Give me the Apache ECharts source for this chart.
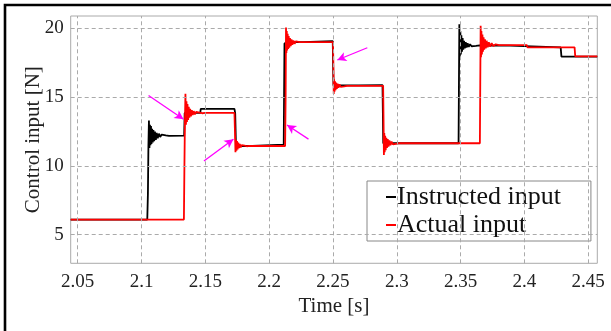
<!DOCTYPE html>
<html>
<head>
<meta charset="utf-8">
<script src="https://cdn.jsdelivr.net/npm/echarts@6/dist/echarts.min.js"></script>
<style>
html,body{margin:0;padding:0;background:#fff;}
#chart{width:611px;height:331px;}
</style>
</head>
<body>
<div id="chart"></div>
<script>
// ---- data ----
var xTicks = [2.05, 2.1, 2.15, 2.2, 2.25, 2.3, 2.35, 2.4, 2.45];
var yTicks = [5, 10, 15, 20];
var xRange = [2.0445, 2.4571];
var yRange = [2.92, 20.9];
var seriesNames = ['Instructed input', 'Actual input'];

var instructed = [
  [2.0445,6.1],[2.1045,6.1],[2.1050,8.0],[2.1054,11.5],[2.1058,13.3],[2.1062,11.3],[2.1066,13.0],
  [2.1070,11.5],[2.1074,12.9],[2.1078,11.6],[2.1083,12.7],[2.1088,11.7],[2.1093,12.6],[2.1099,11.8],
  [2.1105,12.5],[2.1112,11.9],[2.1119,12.4],[2.1127,12.0],[2.1136,12.35],[2.1146,12.1],[2.1158,12.28],
  [2.1172,12.15],[2.1190,12.22],[2.1215,12.18],[2.1334,12.2],
  [2.1338,13.85],[2.1460,13.85],[2.1464,14.15],[2.1728,14.15],[2.1734,13.8],[2.1740,11.4],
  [2.1760,11.45],[2.1868,11.45],[2.1872,11.55],[2.2114,11.55],[2.2120,18.9],[2.2140,19.0],
  [2.2265,19.0],[2.2268,19.08],[2.2498,19.08],[2.2504,15.85],[2.2700,15.85],[2.2703,15.88],[2.2888,15.88],
  [2.2894,11.65],[2.3484,11.65],[2.3487,16.0],
  [2.3490,20.3],[2.3494,17.9],[2.3498,19.8],[2.3502,18.1],[2.3506,19.5],[2.3511,18.3],[2.3516,19.3],
  [2.3521,18.45],[2.3527,19.1],[2.3533,18.55],[2.3540,19.0],[2.3547,18.6],[2.3555,18.92],[2.3564,18.65],
  [2.3574,18.85],[2.3586,18.7],[2.3600,18.8],[2.3620,18.73],[2.3650,18.76],[2.3887,18.75],
  [2.3890,18.62],[2.4284,18.62],[2.4290,17.95],[2.4571,17.95]
];

var actual = [
  [2.0445,6.1],[2.1332,6.1],[2.1336,10.0],[2.1340,13.3],[2.1344,15.25],[2.1348,13.0],[2.1352,14.7],
  [2.1356,13.2],[2.1360,14.5],[2.1365,13.35],[2.1370,14.3],[2.1375,13.5],[2.1381,14.15],[2.1387,13.6],
  [2.1394,14.05],[2.1401,13.7],[2.1409,13.98],[2.1418,13.75],[2.1428,13.92],[2.1440,13.8],[2.1455,13.88],
  [2.1475,13.83],[2.1500,13.85],[2.1728,13.85],
  [2.1732,12.5],[2.1736,11.0],[2.1740,11.9],[2.1744,11.1],[2.1748,11.8],[2.1753,11.2],[2.1758,11.7],
  [2.1764,11.3],[2.1770,11.6],[2.1777,11.35],[2.1785,11.52],[2.1795,11.4],[2.1808,11.48],[2.1825,11.43],
  [2.1850,11.45],[2.2125,11.45],
  [2.2129,15.0],[2.2132,20.07],[2.2135,18.2],[2.2138,19.8],[2.2141,18.4],[2.2145,19.6],[2.2149,18.5],
  [2.2153,19.45],[2.2158,18.6],[2.2163,19.3],[2.2169,18.7],[2.2175,19.2],[2.2182,18.8],[2.2190,19.12],
  [2.2199,18.88],[2.2210,19.06],[2.2224,18.95],[2.2240,19.0],[2.2500,19.0],
  [2.2503,17.5],[2.2506,15.23],[2.2509,16.3],[2.2512,15.4],[2.2516,16.15],[2.2520,15.5],[2.2525,16.05],
  [2.2530,15.6],[2.2536,15.98],[2.2543,15.68],[2.2551,15.92],[2.2560,15.74],[2.2572,15.86],[2.2588,15.78],
  [2.2610,15.82],[2.2893,15.82],
  [2.2896,13.5],[2.2899,10.8],[2.2902,12.4],[2.2905,11.0],[2.2909,12.2],[2.2913,11.15],[2.2918,12.05],
  [2.2923,11.3],[2.2929,11.95],[2.2935,11.4],[2.2942,11.85],[2.2950,11.5],[2.2959,11.77],[2.2970,11.56],
  [2.2983,11.7],[2.3000,11.62],[2.3025,11.66],[2.3651,11.65],
  [2.3654,16.0],[2.3657,20.19],[2.3660,17.9],[2.3663,19.8],[2.3667,18.1],[2.3671,19.55],[2.3675,18.3],
  [2.3680,19.35],[2.3685,18.45],[2.3691,19.2],[2.3697,18.55],[2.3704,19.1],[2.3712,18.62],[2.3721,19.0],
  [2.3731,18.68],[2.3743,18.92],[2.3757,18.72],[2.3775,18.84],[2.3800,18.78],[2.4020,18.78],
  [2.4024,18.62],[2.4393,18.62],[2.4398,17.97],[2.4571,17.97]
];

// annotation arrows: [start, tip] in data units
var arrows = [
  [[2.1055,15.12],[2.1329,13.39]],
  [[2.1489,10.36],[2.1720,11.94]],
  [[2.2308,11.95],[2.2140,12.97]],
  [[2.2769,18.59],[2.2534,17.70]]
];

// ---- chart ----
var FONT = 'Liberation Serif';
var chart = echarts.init(document.getElementById('chart'), null, {renderer:'canvas'});

var gridLines = [];
xTicks.forEach(function(v){ gridLines.push({xAxis:v}); });
yTicks.forEach(function(v){ gridLines.push({yAxis:v}); });

var arrowLines = arrows.map(function(a){
  return [{coord:a[0], symbol:'none'}, {coord:a[1], symbol:'arrow'}];
});

var fmt = function(v){ return String(+(+v).toFixed(2)); };

chart.setOption({
  backgroundColor:'#fff',
  animation:false,
  textStyle:{fontFamily:FONT},
  graphic:[{
    type:'rect', silent:true, z:100,
    shape:{x:5, y:5, width:900, height:700},
    style:{fill:'none', stroke:'#000', lineWidth:2.6}
  }],
  grid:{left:70.7, top:16, right:13.7, bottom:67.7, show:true, borderColor:'#aaa', borderWidth:1, backgroundColor:'transparent'},
  legend:{
    data:seriesNames,
    orient:'vertical',
    left:367, top:181,
    backgroundColor:'#fff',
    borderColor:'#888', borderWidth:1, borderRadius:0,
    padding:[2, 30, 2, 19],
    itemGap:0,
    itemWidth:10, itemHeight:2,
    icon:'rect',
    selectedMode:false,
    textStyle:{fontFamily:FONT, fontSize:26, color:'#111', lineHeight:28, padding:[0,0,0,-4]}
  },
  xAxis:{
    type:'value', min:xRange[0], max:xRange[1],
    name:'Time [s]', nameLocation:'middle', nameGap:33, nameMoveOverlap:false,
    nameTextStyle:{fontFamily:FONT, fontSize:21, color:'#222'},
    axisLine:{show:false}, axisTick:{show:false}, splitLine:{show:false},
    axisLabel:{customValues:xTicks, formatter:fmt, fontFamily:FONT, fontSize:19, color:'#222', margin:9}
  },
  yAxis:{
    type:'value', min:yRange[0], max:yRange[1],
    name:'Control input [N]', nameLocation:'middle', nameGap:27, nameMoveOverlap:false,
    nameTextStyle:{fontFamily:FONT, fontSize:21, color:'#222'},
    axisLine:{show:false}, axisTick:{show:false}, splitLine:{show:false},
    axisLabel:{customValues:yTicks, formatter:fmt, fontFamily:FONT, fontSize:19, color:'#222', margin:7}
  },
  series:[
    {
      name:'grid', type:'line', data:[], z:1, silent:true,
      markLine:{silent:true, symbol:'none', animation:false, label:{show:false},
        lineStyle:{color:'#aaa', type:[4,3], width:1}, data:gridLines}
    },
    {
      name:seriesNames[0], type:'line', data:instructed, showSymbol:false, symbol:'none', z:3,
      color:'#000', lineStyle:{color:'#000', width:1.8}
    },
    {
      name:seriesNames[1], type:'line', data:actual, showSymbol:false, symbol:'none', z:4,
      color:'#ff0000', lineStyle:{color:'#ff0000', width:1.8}
    },
    {
      name:'arrows', type:'line', data:[], z:5, silent:true,
      markLine:{silent:true, animation:false, symbolSize:[7,9], label:{show:false},
        lineStyle:{color:'#ff00ff', type:'solid', width:1.3}, data:arrowLines}
    }
  ]
});
</script>
</body>
</html>
